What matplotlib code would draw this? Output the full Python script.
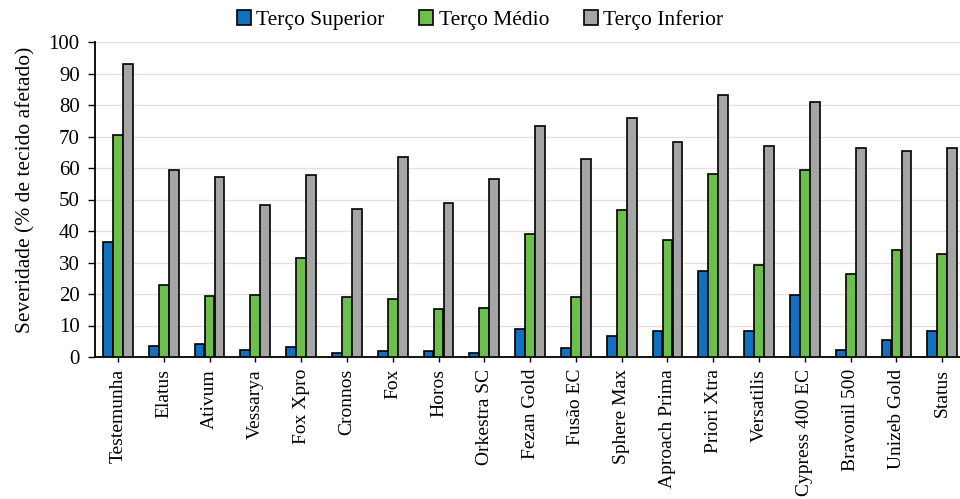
import matplotlib
matplotlib.use("Agg")
import matplotlib.pyplot as plt
import numpy as np

plt.rcParams['font.family'] = ['Liberation Serif', 'DejaVu Serif']

categories = ["Testemunha", "Elatus", "Ativum", "Vessarya", "Fox Xpro", "Cronnos",
              "Fox", "Horos", "Orkestra SC", "Fezan Gold", "Fusão EC", "Sphere Max",
              "Aproach Prima", "Priori Xtra", "Versatilis", "Cypress 400 EC",
              "Bravonil 500", "Unizeb Gold", "Status"]

terco_superior = [36.5, 3.5, 4.0, 2.1, 3.2, 1.4, 1.9, 1.9, 1.4, 9.0, 3.0, 6.7,
                  8.2, 27.3, 8.2, 19.8, 2.1, 5.3, 8.2]
terco_medio = [70.4, 22.8, 19.4, 19.8, 31.4, 19.0, 18.5, 15.1, 15.7, 39.2, 18.9,
               46.8, 37.3, 58.0, 29.1, 59.5, 26.2, 34.1, 32.6]
terco_inferior = [93.1, 59.5, 57.1, 48.4, 57.7, 46.9, 63.5, 49.0, 56.6, 73.3,
                  62.7, 75.9, 68.3, 83.3, 67.0, 81.0, 66.5, 65.4, 66.5]

series_names = ["Terço Superior", "Terço Médio", "Terço Inferior"]
colors = ["#1170c0", "#6cc04a", "#a5a5a5"]

fig = plt.figure(figsize=(9.6, 4.99), dpi=100)
ax = fig.add_axes([95 / 960, 142 / 499, 19 * 45.8 / 960, 315 / 499])

x = np.arange(len(categories))
w = 0.215
for i, (vals, name, col) in enumerate(zip([terco_superior, terco_medio, terco_inferior],
                                          series_names, colors)):
    ax.bar(x + (i - 1) * (w + 0.005), vals, width=w, color=col, edgecolor="black",
           linewidth=1.2, label=name, zorder=3)

ax.set_xlim(-0.5, len(categories) - 0.5)
ax.set_ylim(0, 100)
ax.set_yticks(np.arange(0, 101, 10))
ax.yaxis.grid(True, color="#eadede", linewidth=1.0, zorder=0)
ax.set_axisbelow(True)

ax.set_xticks(x)
ax.set_xticklabels(categories, rotation=90, fontsize=14)
ax.tick_params(axis="y", labelsize=15, length=5, width=1, pad=6)
ax.tick_params(axis="x", length=3.6, width=1, pad=5)

for s in ["top", "right"]:
    ax.spines[s].set_visible(False)
ax.spines["left"].set_linewidth(1.3)
ax.spines["bottom"].set_linewidth(1.3)

ax.set_ylabel("Severidade (% de tecido afetado)", fontsize=15.5)
ax.yaxis.set_label_coords(-0.068, 0.53)

leg = fig.legend(loc="center", bbox_to_anchor=(0.5, 0.96), ncol=3, frameon=False,
                 fontsize=15.5, handlelength=0.65, handleheight=0.65, handletextpad=0.25,
                 columnspacing=1.6)
for h in leg.legend_handles:
    h.set_linewidth(1.2)

fig.savefig("out.png", dpi=100)
